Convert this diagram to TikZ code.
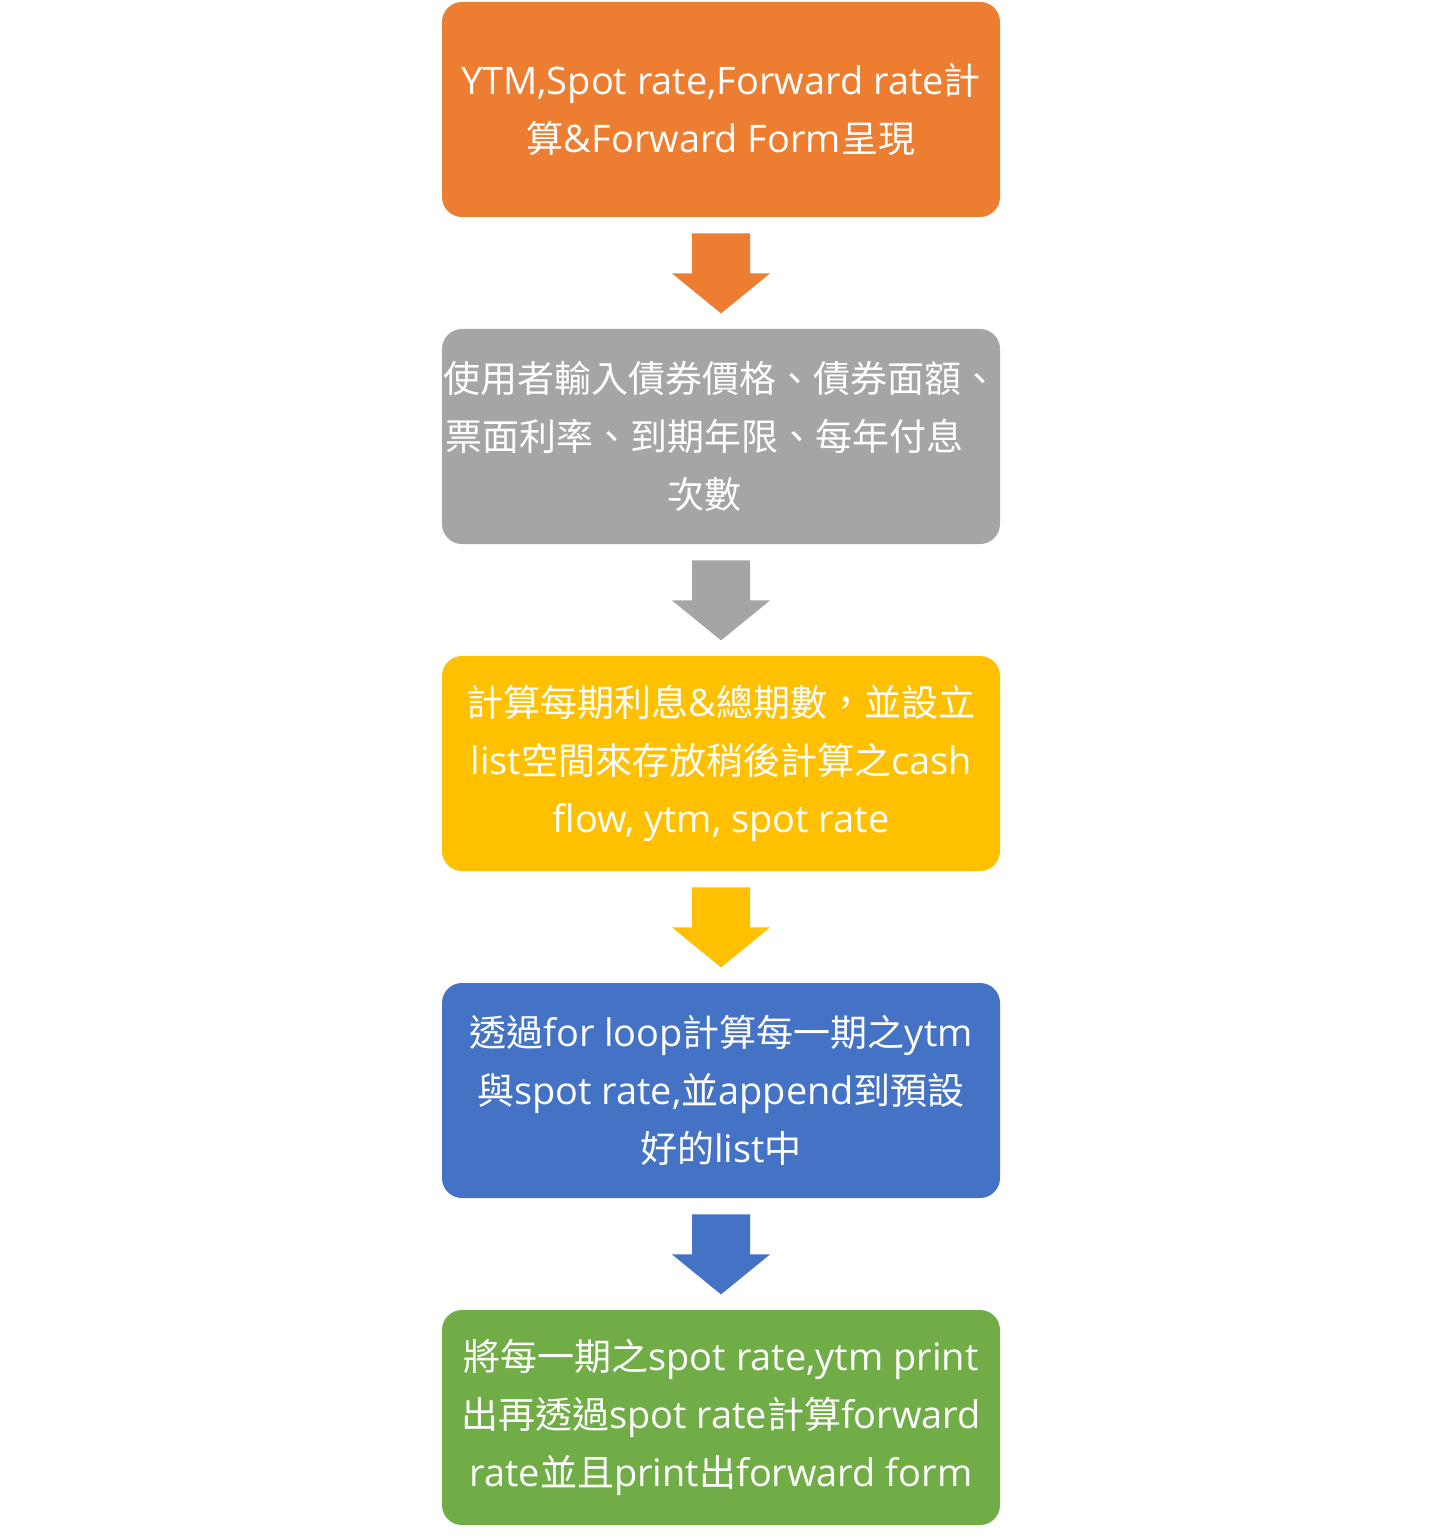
\documentclass[tikz,border=0pt]{standalone}
\usepackage{fontspec}
\setmainfont[Scale=1.025]{Open Sans}
\newfontfamily\cjkfont{Noto Sans CJK TC}
\newcommand{\C}[1]{{\cjkfont #1}}
\usetikzlibrary{calc}
\definecolor{cOrange}{HTML}{ED7D31}
\definecolor{cGray}{HTML}{A5A5A5}
\definecolor{cYellow}{HTML}{FFC000}
\definecolor{cBlue}{HTML}{4472C4}
\definecolor{cGreen}{HTML}{70AD47}
\tikzset{
  stepbox/.style={rounded corners=10pt, minimum width=279pt, minimum height=107.5pt,
    inner sep=0pt, align=center, text=white,
    font=\fontsize{18.5pt}{29pt}\selectfont},
  downarrow/.pic={
    \fill[pic actions] (-29,16) -- (29,16) -- (29,56) -- (49,56) -- (0,96)
      -- (-49,56) -- (-29,56) -- cycle;
  }
}
\begin{document}
\begin{tikzpicture}[x=0.5pt,y=-0.5pt]
\useasboundingbox (0,0) rectangle (1442,1540);
\node[stepbox, fill=cOrange] (b1) at (721,109.5) {YTM,Spot rate,Forward rate\C{計}\\\C{算}\&Forward Form\C{呈現}};
\node[stepbox, fill=cGray] (b2) at (721,436.5) {\C{使用者輸入債券價格、債券面額、}\\\C{票面利率、到期年限、每年付息}\rule{17pt}{0pt}\\\C{次數}\rule{17pt}{0pt}};
\node[stepbox, fill=cYellow] (b3) at (721,763.5) {\C{計算每期利息}\&\C{總期數，並設立}\\list\C{空間來存放稍後計算之}cash\\flow, ytm, spot rate};
\node[stepbox, fill=cBlue] (b4) at (721,1090.5) {\C{透過}for loop\C{計算每一期之}ytm\\\C{與}spot rate,\C{並}append\C{到預設}\\\C{好的}list\C{中}};
\node[stepbox, fill=cGreen] (b5) at (721,1417.5) {\C{將每一期之}spot rate,ytm print\\\C{出再透過}spot rate\C{計算}forward\\rate\C{並且}print\C{出}forward form};
\pic[fill=cOrange] at (b1.south) {downarrow};
\pic[fill=cGray] at (b2.south) {downarrow};
\pic[fill=cYellow] at (b3.south) {downarrow};
\pic[fill=cBlue] at (b4.south) {downarrow};
\end{tikzpicture}
\end{document}
